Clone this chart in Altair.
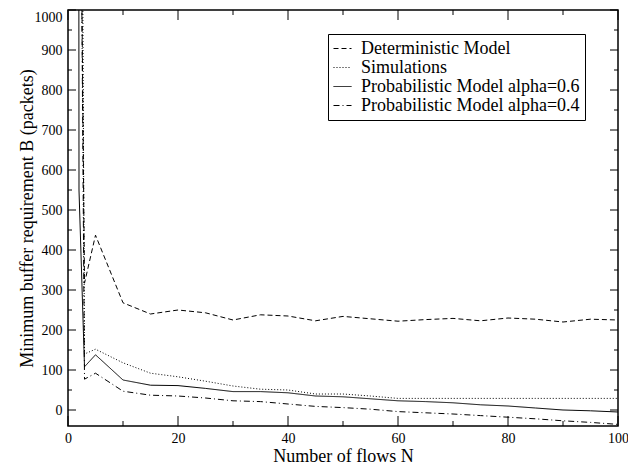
import altair as alt
import pandas as pd

series_names = [
    "Deterministic Model",
    "Simulations",
    "Probabilistic Model alpha=0.6",
    "Probabilistic Model alpha=0.4",
]

det_n = [2, 3, 5, 10, 15, 20, 25, 30, 35, 40, 45, 50, 55, 60, 65, 70, 75, 80, 85, 90, 95, 100]
det_b = [1800, 317, 437, 268, 240, 250, 243, 225, 238, 235, 223, 234, 228, 222, 226, 229, 223, 230, 227, 220, 227, 225]

sim_n = [2, 3, 5, 10, 15, 20, 25, 30, 35, 40, 45, 50, 55, 60, 65, 70, 75, 80, 85, 90, 95, 100]
sim_b = [3000, 140, 152, 118, 92, 83, 72, 60, 52, 50, 40, 40, 35, 29, 29, 29, 29, 29, 29, 29, 29, 29]

p6_n = [1, 2, 3, 5, 10, 15, 20, 25, 30, 35, 40, 45, 50, 55, 60, 65, 70, 75, 80, 85, 90, 95, 100]
p6_b = [20000, 550, 108, 138, 75, 62, 61, 54, 46, 46, 43, 35, 33, 28, 23, 21, 18, 13, 10, 5, 0, -2, -5]

p4_n = [2, 3, 5, 10, 15, 20, 25, 30, 35, 40, 45, 50, 55, 60, 65, 70, 75, 80, 85, 90, 95, 100]
p4_b = [2000, 77, 92, 47, 37, 35, 30, 23, 21, 15, 9, 6, 2, -4, -7, -10, -14, -18, -22, -27, -31, -36]

y_major = [0, 100, 200, 300, 400, 500, 600, 700, 800, 900, 1000]
y_minor = [50, 150, 250, 350, 450, 550, 650, 750, 850, 950]
x_major = [0, 20, 40, 60, 80, 100]
x_minor = [10, 30, 50, 70, 90]

W, H = 550, 416
FONT = "Times New Roman, Liberation Serif, DejaVu Serif, serif"

rows = []
for name, ns, bs in zip(series_names, [det_n, sim_n, p6_n, p4_n], [det_b, sim_b, p6_b, p4_b]):
    for i, (n, b) in enumerate(zip(ns, bs)):
        rows.append({"series": name, "N": n, "B": b, "order": i})
df = pd.DataFrame(rows)

xscale = alt.Scale(domain=[0, 100], nice=False, zero=False)
yscale = alt.Scale(domain=[-40, 1000], nice=False, zero=False)

lines = alt.Chart(df).mark_line(clip=True, strokeWidth=1, color="black").encode(
    x=alt.X("N:Q", scale=xscale,
            axis=alt.Axis(values=x_major, format="d", title="Number of flows N", ticks=False, tickSize=0,
                          domain=False, grid=False, labelPadding=5, titlePadding=2, labelFlush=False,
                          labelFontSize=14, titleFontSize=18, labelFont=FONT, titleFont=FONT,
                          labelColor="black", titleColor="black", titleFontWeight="normal")),
    y=alt.Y("B:Q", scale=yscale,
            axis=alt.Axis(values=y_major, format="d", title="Minimum buffer requirement B (packets)", ticks=False,
                          tickSize=0, domain=False, grid=False, labelPadding=6, titlePadding=-2,
                          labelFlush=True,
                          labelFontSize=14, titleFontSize=18, labelFont=FONT, titleFont=FONT,
                          labelColor="black", titleColor="black", titleFontWeight="normal")),
    strokeDash=alt.StrokeDash(
        "series:N",
        scale=alt.Scale(domain=series_names, range=[[5, 3], [1, 2], [1, 0], [6, 3, 1, 3]]),
        legend=alt.Legend(
            title=None, orient="none", legendX=260, legendY=24,
            symbolType="stroke", symbolSize=324, symbolStrokeWidth=1, symbolStrokeColor="black",
            labelFont=FONT, labelFontSize=18, labelColor="black", labelLimit=400,
            rowPadding=0, padding=5, strokeColor="black", fillColor="white",
            labelOffset=9, symbolOffset=0,
        ),
    ),
    order="order:Q",
)

tick_layers = []
def tick_df(vals):
    return pd.DataFrame({"v": vals})

for vals, ln in [(y_major, 8), (y_minor, 4)]:
    d = tick_df(vals)
    tick_layers.append(alt.Chart(d).mark_rule(color="black", strokeWidth=1).encode(
        y=alt.Y("v:Q", scale=yscale), x=alt.value(0), x2=alt.value(ln)))
    tick_layers.append(alt.Chart(d).mark_rule(color="black", strokeWidth=1).encode(
        y=alt.Y("v:Q", scale=yscale), x=alt.value(W), x2=alt.value(W - ln)))
for vals, ln in [(x_major, 10), (x_minor, 5)]:
    d = tick_df(vals)
    tick_layers.append(alt.Chart(d).mark_rule(color="black", strokeWidth=1).encode(
        x=alt.X("v:Q", scale=xscale), y=alt.value(H), y2=alt.value(H - ln)))
    tick_layers.append(alt.Chart(d).mark_rule(color="black", strokeWidth=1).encode(
        x=alt.X("v:Q", scale=xscale), y=alt.value(0), y2=alt.value(ln)))

chart = alt.layer(lines, *tick_layers).properties(
    width=W, height=H,
    autosize=alt.AutoSizeParams(type="none"),
    padding={"left": 60, "top": 2, "right": 10, "bottom": 40},
    background="white",
).configure_view(stroke="black", strokeWidth=1.5)

chart.save("out.html", embed_options={"renderer": "svg", "actions": False})
